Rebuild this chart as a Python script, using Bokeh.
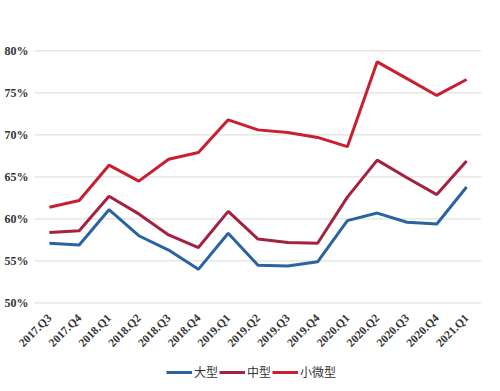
import math
from bokeh.plotting import figure
from bokeh.models import Legend, LegendItem, FixedTicker, Range1d
from bokeh.embed import file_html
from bokeh.resources import INLINE

quarters = ["2017.Q3", "2017.Q4", "2018.Q1", "2018.Q2", "2018.Q3", "2018.Q4",
            "2019.Q1", "2019.Q2", "2019.Q3", "2019.Q4", "2020.Q1", "2020.Q2",
            "2020.Q3", "2020.Q4", "2021.Q1"]
large = [57.1, 56.9, 61.1, 58.0, 56.3, 54.0, 58.3, 54.5, 54.4, 54.9, 59.8, 60.7, 59.6, 59.4, 63.8]
medium = [58.4, 58.6, 62.7, 60.6, 58.1, 56.6, 60.9, 57.6, 57.2, 57.1, 62.6, 67.0, 64.9, 62.9, 66.9]
small = [61.4, 62.2, 66.4, 64.5, 67.1, 67.9, 71.8, 70.6, 70.3, 69.7, 68.6, 78.7, 76.7, 74.7, 76.6]
series_names = ["大型", "中型", "小微型"]
colors = ["#2a64a0", "#a3223f", "#c91f2e"]
y_ticks = [50, 55, 60, 65, 70, 75, 80]

xs = list(range(len(quarters)))
x_lo, x_hi = -0.5, len(quarters) - 0.5

p = figure(x_range=Range1d(-1.641, x_hi), y_range=Range1d(39.7, 81),
           output_backend="svg", toolbar_location=None,
           frame_width=481, frame_height=347,
           min_border_left=0, min_border_right=3, min_border_top=42,
           min_border_bottom=0, background_fill_color="white",
           border_fill_color="white")
p.outline_line_color = None

# horizontal grid lines spanning only the category area
p.segment(x0=[x_lo] * len(y_ticks), x1=[x_hi] * len(y_ticks), y0=y_ticks, y1=y_ticks,
          line_color="#d9d9d9", line_width=1)

renderers = []
for vals, c in zip([large, medium, small], colors):
    r = p.line(xs, vals, line_color=c, line_width=3)
    renderers.append(r)

p.xgrid.grid_line_color = None
p.ygrid.grid_line_color = None

p.yaxis.fixed_location = x_lo
p.yaxis.ticker = FixedTicker(ticks=y_ticks)
p.yaxis.major_label_overrides = {t: f"{t}%" for t in y_ticks}
p.yaxis.axis_line_color = None
p.yaxis.major_tick_line_color = None
p.yaxis.minor_tick_line_color = None
p.yaxis.major_tick_out = 0
p.yaxis.major_tick_in = 0
p.yaxis.major_label_text_font = "Liberation Serif"
p.yaxis.major_label_text_font_size = "12px"
p.yaxis.major_label_text_font_style = "bold"
p.yaxis.major_label_text_color = "#333333"
p.yaxis.major_label_standoff = 6

p.xaxis.fixed_location = 50
p.xaxis.ticker = FixedTicker(ticks=xs)
p.xaxis.major_label_overrides = {i: q for i, q in zip(xs, quarters)}
p.xaxis.axis_line_color = None
p.xaxis.major_tick_line_color = None
p.xaxis.minor_tick_line_color = None
p.xaxis.major_tick_out = 0
p.xaxis.major_tick_in = 0
p.xaxis.major_label_orientation = math.pi / 4
p.xaxis.major_label_text_font = "Liberation Serif"
p.xaxis.major_label_text_font_size = "11.5px"
p.xaxis.major_label_text_font_style = "bold"
p.xaxis.major_label_text_color = "#333333"
p.xaxis.major_label_standoff = 13

legend = Legend(items=[LegendItem(label=n, renderers=[r]) for n, r in zip(series_names, renderers)],
                orientation="horizontal", location=(166, 9),
                label_text_font="Noto Sans CJK SC", label_text_font_size="12px",
                label_text_color="#333333", glyph_width=26, glyph_height=12,
                spacing=1, label_standoff=2, padding=2, margin=0,
                border_line_color=None, background_fill_alpha=0)
p.add_layout(legend, "center")

open("out.html", "w").write(file_html(p, INLINE))
